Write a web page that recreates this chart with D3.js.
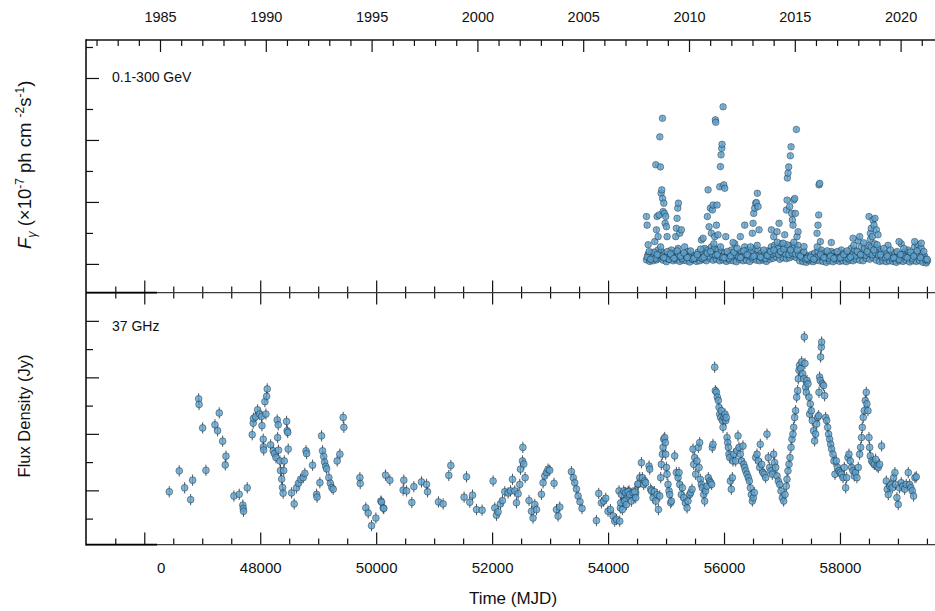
<!DOCTYPE html>
<html><head><meta charset="utf-8">
<script src="https://cdn.jsdelivr.net/npm/d3@7"></script>
<style>body{margin:0;background:#fff}svg{display:block;font-family:"Liberation Sans",Arial,Helvetica,sans-serif}</style>
</head><body><svg id="c" width="935" height="611"></svg>
<script>
// ---------- DATA ----------
const mjdMajorTicks = [46000,48000,50000,52000,54000,56000,58000];
const mjdTickLabels = ["0","48000","50000","52000","54000","56000","58000"];
const mjdMinorTicks = [45500,46500,47000,47500,48500,49000,49500,50500,51000,51500,52500,53000,53500,54500,55000,55500,56500,57000,57500,58500,59000,59500];
const yearMajorTicks = [1985,1990,1995,2000,2005,2010,2015,2020];
const yearMinorTicks = [1982,1983,1984,1986,1987,1988,1989,1991,1992,1993,1994,1996,1997,1998,1999,2001,2002,2003,2004,2006,2007,2008,2009,2011,2012,2013,2014,2016,2017,2018,2019,2021];
const gammaMajorTicks = [0,2,4,6];
const gammaMinorTicks = [1,3,5,7];
const radioMajorTicks = [2,4,6,8];
const radioMinorTicks = [1,3,5,7];
const gammaTypicalErr = 0.08;
const radioTypicalErr = 0.2;

// Fermi-LAT 0.1-300 GeV flux (x1e-7 ph cm^-2 s^-1): [MJD, flux]
const gammaPoints = [
[54662,0.13],[54719,0.08],[54777,0.10],[54834,0.13],[54892,0.18],[54949,0.12],[55007,0.07],[55064,0.15],[55122,0.10],[55179,0.13],[55236,0.08],[55294,0.12],[55351,0.10],[55409,0.06],[55466,0.13],[55524,0.08],[55581,0.10],[55639,0.14],[55696,0.10],[55754,0.18],[55811,0.12],[55869,0.15],[55926,0.10],[55984,0.13],[56041,0.08],[56099,0.12],[56156,0.10],[56213,0.07],[56271,0.14],[56328,0.10],[56386,0.12],[56443,0.08],[56501,0.15],[56558,0.12],[56616,0.10],[56673,0.13],[56731,0.08],[56788,0.15],[56846,0.18],[56903,0.22],[56961,0.15],[57018,0.20],[57076,0.17],[57133,0.20],[57190,0.25],[57248,0.20],[57305,0.10],[57363,0.07],[57420,0.05],[57478,0.10],[57535,0.07],[57593,0.12],[57650,0.10],[57708,0.08],[57765,0.05],[57823,0.10],[57880,0.07],[57938,0.12],[57995,0.08],[58052,0.10],[58110,0.07],[58167,0.12],[58225,0.10],[58282,0.15],[58340,0.12],[58397,0.10],[58455,0.18],[58512,0.15],[58570,0.20],[58627,0.12],[58685,0.08],[58742,0.10],[58800,0.07],[58857,0.10],[58914,0.08],[58972,0.05],[59029,0.10],[59087,0.08],[59144,0.12],[59202,0.06],[59259,0.10],[59317,0.08],[59375,0.10],[59432,0.05],[59489,0.03],
[54690,0.30],[54747,0.35],[54805,0.25],[54862,0.45],[54920,0.40],[54977,0.33],[55035,0.28],[55092,0.45],[55150,0.35],[55207,0.50],[55264,0.30],[55322,0.55],[55379,0.40],[55437,0.30],[55494,0.25],[55552,0.38],[55609,0.30],[55667,0.50],[55724,0.45],[55782,0.55],[55839,0.50],[55897,0.45],[55954,0.40],[56012,0.35],[56069,0.30],[56127,0.45],[56184,0.65],[56241,0.35],[56299,0.40],[56356,0.55],[56414,0.45],[56471,0.40],[56529,0.50],[56586,0.45],[56644,0.35],[56701,0.30],[56759,0.42],[56816,0.55],[56874,0.60],[56931,0.50],[56989,0.65],[57046,0.55],[57104,0.50],[57161,0.60],[57218,0.55],[57276,0.60],[57333,0.35],[57391,0.30],[57448,0.25],[57506,0.30],[57563,0.35],[57621,0.40],[57678,0.45],[57736,0.35],[57793,0.30],[57851,0.40],[57908,0.35],[57966,0.30],[58023,0.45],[58080,0.35],[58138,0.30],[58195,0.50],[58253,0.45],[58310,0.75],[58368,0.55],[58425,0.50],[58483,0.60],[58540,0.55],[58598,0.65],[58655,0.50],[58713,0.40],[58770,0.35],[58828,0.60],[58885,0.30],[58942,0.35],[59000,0.25],[59057,0.65],[59115,0.40],[59172,0.45],[59230,0.30],[59287,0.55],[59345,0.62],[59403,0.50],[59460,0.25],[59510,0.10],
[54704,0.20],[54761,0.22],[54819,0.18],[54876,0.28],[54934,0.25],[54991,0.20],[55049,0.15],[55106,0.24],[55164,0.20],[55221,0.28],[55278,0.18],[55336,0.26],[55393,0.22],[55451,0.16],[55508,0.20],[55566,0.22],[55623,0.18],[55681,0.30],[55738,0.25],[55796,0.32],[55853,0.28],[55911,0.25],[55968,0.22],[56026,0.20],[56083,0.18],[56141,0.26],[56198,0.30],[56255,0.22],[56313,0.25],[56370,0.30],[56428,0.26],[56485,0.22],[56543,0.28],[56600,0.25],[56658,0.20],[56715,0.18],[56773,0.25],[56830,0.32],[56888,0.35],[56945,0.30],[57003,0.36],[57060,0.32],[57118,0.30],[57175,0.35],[57232,0.32],[57290,0.30],[57347,0.20],[57405,0.16],[57462,0.15],[57520,0.18],[57577,0.20],[57635,0.24],[57692,0.25],[57750,0.20],[57807,0.18],[57865,0.24],[57922,0.20],[57980,0.18],[58037,0.25],[58094,0.20],[58152,0.18],[58209,0.28],[58267,0.26],[58324,0.35],[58382,0.30],[58439,0.28],[58497,0.34],[58554,0.30],[58612,0.36],[58669,0.28],[58727,0.22],[58784,0.20],[58842,0.30],[58899,0.18],[58956,0.20],[59014,0.15],[59071,0.32],[59129,0.24],[59186,0.25],[59244,0.18],[59301,0.30],[59359,0.34],[59417,0.28],[59474,0.15],
[54676,0.22],[54733,0.15],[54791,0.38],[54848,0.30],[54906,0.55],[54963,0.20],[55021,0.40],[55078,0.32],[55136,0.18],[55193,0.42],[55250,0.25],[55308,0.35],[55365,0.20],[55423,0.42],[55480,0.18],[55538,0.30],[55595,0.48],[55653,0.22],[55710,0.35],[55768,0.40],[55825,0.65],[55883,0.30],[55940,0.55],[55998,0.20],[56055,0.40],[56113,0.25],[56170,0.38],[56227,0.50],[56285,0.20],[56342,0.42],[56400,0.30],[56457,0.55],[56515,0.25],[56572,0.60],[56630,0.22],[56687,0.45],[56745,0.28],[56802,0.40],[56860,0.45],[56917,0.70],[56975,0.40],[57032,0.48],[57090,0.62],[57147,0.45],[57204,0.70],[57262,0.45],[57319,0.25],[57377,0.40],[57434,0.18],[57492,0.22],[57549,0.15],[57607,0.55],[57664,0.30],[57722,0.20],[57779,0.42],[57837,0.25],[57894,0.18],[57952,0.40],[58009,0.20],[58066,0.30],[58124,0.42],[58181,0.22],[58239,0.60],[58296,0.40],[58354,0.30],[58411,0.68],[58469,0.40],[58526,0.80],[58584,0.45],[58641,0.62],[58699,0.30],[58756,0.50],[58814,0.25],[58871,0.45],[58928,0.20],[58986,0.40],[59043,0.30],[59101,0.50],[59158,0.20],[59216,0.38],[59273,0.25],[59331,0.42],[59389,0.20],[59446,0.40],[59503,0.15],
[54662,1.53],[54673,1.25],[54691,0.62],[54708,0.40],[54805,0.72],[54823,3.20],[54834,1.10],[54846,1.53],[54863,0.88],[54880,1.58],[54892,4.10],[54903,3.13],[54915,2.28],[54926,2.39],[54938,4.70],[54940,2.11],[54949,1.69],[54961,1.96],[54972,1.63],[54984,1.31],[54995,1.53],[55007,1.20],[55018,0.88],
[55167,0.88],[55179,1.15],[55190,1.47],[55202,1.80],[55213,1.96],[55236,0.99],[55265,1.10],[55610,0.77],[55639,0.83],
[55713,1.53],[55725,2.39],[55742,1.20],[55765,1.80],[55782,0.99],[55800,1.74],[55811,1.90],[55840,0.88],[55851,4.65],[55857,4.57],[55869,1.25],[55880,1.90],[55897,0.94],
[55926,2.49],[55938,3.14],[55949,3.52],[55961,3.73],[55966,3.86],[55984,5.07],[55995,2.55],[56012,2.44],[56030,0.88],[56156,0.69],[56282,0.88],[56357,1.25],
[56489,0.99],[56501,1.31],[56512,1.63],[56530,1.80],[56547,1.96],[56558,1.98],[56575,2.28],[56587,1.85],[56604,1.10],
[56817,1.10],[56857,0.88],[56915,1.04],[56949,1.31],[57018,0.67],[57047,0.94],
[57076,1.74],[57087,2.06],[57093,2.77],[57104,2.93],[57116,3.13],[57133,1.85],[57144,3.49],[57156,3.78],[57167,1.63],[57179,1.42],[57190,1.25],[57202,2.06],[57219,2.11],[57231,1.63],[57248,4.34],[57259,0.88],[57277,1.04],[57380,0.56],
[57604,0.99],[57621,1.25],[57633,1.58],[57639,2.55],[57650,2.60],[57662,0.72],[57851,0.69],[58225,0.83],[58340,0.88],
[58501,1.53],[58524,0.99],[58541,1.15],[58558,0.88],[58570,1.42],[58587,1.25],[58604,1.47],[58627,1.10],[58656,0.94],[59018,0.72],[59288,0.72],[59403,0.67]
];

// 37 GHz flux density (Jy): [MJD, flux]
const radioPoints = [
[46431,1.95],[46603,2.69],[46696,2.09],[46800,1.67],[46834,2.36],[46938,5.24],[46945,5.04],[47007,4.21],[47064,2.71],[47219,4.32],[47265,4.11],[47293,4.74],[47352,3.74],[47397,2.90],[47409,3.21],[47546,1.80],[47638,1.86],[47700,1.48],[47707,1.36],[47712,1.26],[47776,2.09],
[47862,3.97],[47879,4.38],[47885,4.55],[47920,4.60],[47955,4.85],[47990,4.70],[48024,4.62],[48030,4.29],[48052,3.81],[48055,3.54],[48060,3.43],[48081,5.14],[48098,4.70],[48110,5.33],[48121,5.59],[48179,3.61],[48224,3.40],[48245,3.30],[48271,3.16],[48293,4.49],[48310,4.32],[48300,3.87],[48315,3.42],[48340,3.04],[48350,2.70],[48370,2.40],[48385,2.10],[48395,1.90],[48405,2.70],[48415,3.04],[48455,4.44],[48465,4.11],[48475,4.05],[48483,3.46],
[48541,1.91],[48586,1.52],[48627,2.09],[48660,2.25],[48696,2.39],[48741,2.45],[48770,2.60],[48790,3.40],[48800,3.30],[48903,2.89],[48972,1.86],[48980,1.76],[49029,2.27],[49058,3.93],[49075,3.40],[49095,3.20],[49110,3.00],[49130,2.85],[49145,2.76],[49184,2.45],[49210,2.25],[49235,2.10],[49259,2.04],[49327,3.04],[49374,3.28],[49431,4.58],[49443,4.23],
[49719,2.45],[49725,2.24],[49822,1.38],[49862,1.20],[49920,0.75],[49995,1.02],[50081,1.62],[50093,1.58],[50121,1.38],[50132,1.36],[50161,2.54],[50236,2.36],[50477,2.36],[50465,2.01],[50524,1.98],[50615,1.57],[50650,2.13],[50782,2.30],[50869,2.21],[50886,1.95],[51075,1.59],[51155,1.52],[51253,2.53],[51288,2.88],[51517,1.76],[51558,2.48],[51615,1.58],[51662,1.83],[51731,1.32],[51827,1.30],
[52017,2.33],[52046,1.38],[52075,1.12],[52103,1.24],[52144,1.52],[52178,1.64],[52219,1.95],[52276,1.91],[52317,1.98],[52351,2.39],[52391,1.98],[52420,1.56],[52448,1.88],[52477,2.21],[52489,2.75],[52524,3.04],[52530,3.52],[52546,2.93],[52569,2.45],[52637,1.64],[52679,1.26],[52706,1.02],[52736,1.50],[52765,1.32],
[52851,1.86],[52879,2.27],[52908,2.51],[52937,2.63],[52965,2.75],[52994,2.71],[53068,2.25],[53110,1.32],[53138,1.09],[53167,1.41],[53368,2.66],[53400,2.45],[53425,2.27],[53454,2.05],[53483,1.80],[53515,1.60],[53551,1.36],
[53799,0.93],[53839,1.89],[53885,1.56],[53925,1.62],[53960,1.72],[53999,1.26],[54041,1.32],[54086,1.09],[54115,0.91],[54144,0.97],[54189,1.98],[54213,1.38],[54258,1.56],[54287,1.91],[54316,1.74],[54361,1.98],[54402,1.86],[54442,1.74],[54477,1.91],[54517,2.21],
[54201,0.91],[54218,1.56],[54230,1.85],[54247,1.32],[54270,1.98],[54287,1.62],[54304,1.92],[54316,1.50],[54345,1.95],[54373,1.85],[54402,1.62],[54431,1.92],[54460,1.95],[54477,1.74],[54517,2.23],[54546,2.45],[54575,2.98],[54592,2.45],[54615,2.21],[54632,2.33],[54649,2.27],
[54707,2.86],[54718,2.75],[54735,2.04],[54747,1.98],[54776,1.74],[54799,1.95],[54822,1.62],[54845,1.85],[54868,1.32],[54891,1.80],[54908,2.45],[54919,2.92],[54937,3.28],[54948,3.52],[54960,3.81],[54977,3.87],[54988,3.69],[54994,3.28],[55006,2.81],[55017,2.57],[55034,2.21],[55052,1.98],[55063,1.85],[55080,1.56],[55092,1.62],
[55149,3.22],[55178,2.63],[55207,2.45],[55224,2.63],[55236,2.21],[55264,1.85],[55281,2.09],[55304,1.74],[55333,1.56],[55362,1.38],[55379,1.62],[55408,1.85],[55425,1.92],[55448,2.04],[55465,3.46],[55477,2.92],[55494,3.16],[55511,2.57],[55534,3.04],[55557,3.52],[55580,3.69],[55569,2.81],[55592,2.39],[55609,2.21],[55626,2.09],[55649,1.85],[55666,1.62],[55683,1.98],[55706,2.15],[55729,2.45],[55753,2.33],[55770,2.27],[55787,2.21],
[55798,3.52],[55810,3.63],[55839,6.36],[55850,5.53],[55868,5.47],[55885,5.30],[55902,5.18],[55914,4.94],[55925,4.70],[55942,4.58],[55954,4.82],[55971,4.47],[55983,4.23],[56000,4.58],[56017,4.70],[56029,4.47],[56040,4.58],[56052,3.87],[56063,3.69],[56075,3.52],[56086,3.28],[56098,3.16],[56109,2.33],[56126,2.04],[56144,2.45],[56155,3.04],[56167,3.28],
[56201,3.04],[56224,3.40],[56241,3.93],[56258,3.52],[56281,3.28],[56304,3.04],[56327,3.57],[56339,2.92],[56356,2.81],[56373,2.69],[56396,2.57],[56419,2.45],[56437,2.33],[56454,2.09],[56471,1.85],[56488,1.62],[56506,1.74],[56523,1.92],
[56546,3.16],[56569,3.28],[56592,3.04],[56615,2.81],[56626,3.63],[56649,2.92],[56672,2.63],[56695,2.57],[56718,2.45],[56741,3.99],[56764,3.16],[56787,2.81],[56810,2.69],[56833,2.57],[56856,3.28],[56873,2.98],[56891,2.81],[56914,2.51],[56937,2.33],[56960,2.21],[56983,1.98],[57006,1.74],[57029,1.62],[57052,1.85],[57075,2.15],
[57086,2.39],[57103,2.69],[57121,2.92],[57138,3.16],[57155,3.52],[57172,3.81],[57189,3.99],[57201,4.23],[57218,4.58],[57235,4.82],[57253,5.30],[57270,5.53],[57281,5.95],[57293,6.25],[57304,6.43],[57322,6.31],[57339,6.55],[57356,6.13],[57374,5.95],[57385,7.43],[57396,6.49],[57408,5.65],[57419,5.47],[57431,5.89],[57448,5.77],[57465,5.30],[57477,4.70],[57488,5.06],[57506,4.82],[57523,4.47],[57546,4.11],[57563,3.75],[57580,3.99],[57598,4.35],[57615,4.58],[57632,4.64],
[57638,5.47],[57649,6.01],[57661,5.89],[57666,6.72],[57678,7.07],[57684,7.25],[57695,5.77],[57718,5.71],[57735,5.35],[57753,4.58],[57770,4.47],[57787,4.23],[57804,3.99],[57822,3.81],[57839,3.63],[57856,3.46],[57879,3.28],[57896,3.04],[57914,2.57],[57937,3.04],[57960,2.81],[57983,2.69],[58006,2.63],[58029,2.57],[58052,2.45],[58075,2.81],[58098,2.09],[58115,2.45],
[58138,3.16],[58155,3.28],[58178,3.04],[58201,2.81],[58224,2.69],[58247,2.51],[58270,2.63],[58293,2.45],[58316,2.81],[58339,3.28],[58356,3.52],[58373,3.87],[58385,4.23],[58402,4.58],[58419,4.82],[58437,5.18],[58454,5.47],[58465,5.06],[58483,4.82],[58500,3.87],[58511,3.52],
[58523,3.22],[58546,3.04],[58569,2.98],[58592,2.92],[58615,3.10],[58638,2.86],[58661,2.81],[58684,2.92],[58718,3.57],
[58799,2.33],[58816,2.04],[58833,1.85],[58856,2.15],[58879,2.21],[58902,2.09],[58925,2.45],[58948,2.63],[58959,2.21],[58982,1.74],[59005,1.50],[59028,2.09],[59057,2.27],[59086,2.15],[59115,2.04],[59143,2.21],[59178,2.63],[59201,2.21],[59224,2.09],[59247,1.98],[59270,1.80],[59293,2.45],[59316,2.48]
];

// ---------- CHART ----------
const svg = d3.select("#c");
const W = 935;
const left = 86, topY = 40, midY = 292.6, botY = 544.6;

const x = d3.scaleLinear().domain([45000, 59700]).range([86.3, 86.3 + 14700 * 0.057975]);
const xYear = d3.scaleLinear().domain([1985, 2020]).range([160, 900.6]);
const yG = d3.scaleLinear().domain([-0.926, 7.226]).range([midY, topY]);
const yR = d3.scaleLinear().domain([0.08, 9.0]).range([botY, midY]);

const markColor = "#5ea3d0";

function drawSeries(data, ys, err, r, clipId, y0, y1) {
  svg.append("clipPath").attr("id", clipId).append("rect")
    .attr("x", left).attr("y", y0).attr("width", W - left).attr("height", y1 - y0);
  const g = svg.append("g").attr("clip-path", `url(#${clipId})`);
  g.selectAll("line.err").data(data).join("line").attr("class", "err")
    .attr("x1", d => x(d[0])).attr("x2", d => x(d[0]))
    .attr("y1", d => ys(d[1] - err)).attr("y2", d => ys(d[1] + err))
    .attr("stroke", "#111").attr("stroke-opacity", 0.7).attr("stroke-width", 1);
  g.selectAll("circle").data(data).join("circle")
    .attr("cx", d => x(d[0])).attr("cy", d => ys(d[1])).attr("r", r)
    .attr("fill", markColor).attr("fill-opacity", 0.8)
    .attr("stroke", "#0d1820").attr("stroke-opacity", 0.6).attr("stroke-width", 0.7);
}
drawSeries(gammaPoints, yG, gammaTypicalErr, 3.3, "clipG", topY, midY);
drawSeries(radioPoints, yR, radioTypicalErr, 3.4, "clipR", midY, botY);

// ---- axes ----
function noDomain(g) { g.select(".domain").remove(); g.selectAll(".tick line").attr("stroke", "#111").attr("stroke-width", 1.2); }

// top year axis (ticks inward/down)
svg.append("g").attr("transform", `translate(0,${topY})`)
  .call(d3.axisTop(xYear).tickValues(yearMinorTicks).tickSize(-6).tickFormat(""))
  .call(noDomain);
const topMaj = svg.append("g").attr("transform", `translate(0,${topY})`)
  .call(d3.axisTop(xYear).tickValues(yearMajorTicks).tickSizeInner(-12).tickSizeOuter(0).tickPadding(18.5).tickFormat(d3.format("d")))
  .call(noDomain);
topMaj.selectAll("text").attr("font-size", 14.5).attr("fill", "#111").attr("font-family", '"Liberation Sans",Arial,sans-serif');

// middle axis: ticks crossing both sides
[d3.axisTop, d3.axisBottom].forEach(ax => {
  svg.append("g").attr("transform", `translate(0,${midY})`)
    .call(ax(x).tickValues(mjdMinorTicks).tickSize(6).tickFormat("")).call(noDomain);
  svg.append("g").attr("transform", `translate(0,${midY})`)
    .call(ax(x).tickValues(mjdMajorTicks).tickSize(12).tickFormat("")).call(noDomain);
});

// bottom axis (ticks inward/up)
svg.append("g").attr("transform", `translate(0,${botY})`)
  .call(d3.axisTop(x).tickValues(mjdMinorTicks).tickSize(6).tickFormat("")).call(noDomain);
const botMaj = svg.append("g").attr("transform", `translate(0,${botY})`)
  .call(d3.axisBottom(x).tickValues(mjdMajorTicks).tickSizeInner(-12).tickSizeOuter(0).tickPadding(17.5)
    .tickFormat((d, i) => mjdTickLabels[i]))
  .call(noDomain);
botMaj.selectAll("text").attr("font-size", 15).attr("fill", "#111").attr("font-family", '"Liberation Sans",Arial,sans-serif')
  .filter(d => d === 46000).attr("x", 16.3);

// left y axes (ticks inward/right)
svg.append("g").attr("transform", `translate(${left},0)`)
  .call(d3.axisRight(yG).tickValues(gammaMinorTicks).tickSize(7).tickFormat("")).call(noDomain);
svg.append("g").attr("transform", `translate(${left},0)`)
  .call(d3.axisRight(yG).tickValues(gammaMajorTicks).tickSize(13).tickFormat("")).call(noDomain);
svg.append("g").attr("transform", `translate(${left},0)`)
  .call(d3.axisRight(yR).tickValues(radioMinorTicks).tickSize(7).tickFormat("")).call(noDomain);
svg.append("g").attr("transform", `translate(${left},0)`)
  .call(d3.axisRight(yR).tickValues(radioMajorTicks).tickSize(13).tickFormat("")).call(noDomain);

// frame lines
const lines = svg.append("g").attr("fill", "none");
lines.append("line").attr("x1", left).attr("x2", W).attr("y1", topY).attr("y2", topY).attr("stroke", "#111").attr("stroke-width", 1.4);
[midY, botY].forEach(yy => {
  lines.append("line").attr("x1", left).attr("x2", W).attr("y1", yy).attr("y2", yy).attr("stroke", "#3a3a3a").attr("stroke-width", 1.2);
  lines.append("line").attr("x1", left).attr("x2", 157).attr("y1", yy).attr("y2", yy).attr("stroke", "#000").attr("stroke-width", 1.6);
});
lines.append("line").attr("x1", left).attr("x2", left).attr("y1", topY - 0.7).attr("y2", botY + 0.8).attr("stroke", "#000").attr("stroke-width", 1.5);

// panel labels
svg.append("text").attr("x", 112).attr("y", 81.5).attr("font-size", 14).attr("fill", "#111").text("0.1-300 GeV");
svg.append("text").attr("x", 112).attr("y", 331).attr("font-size", 14).attr("fill", "#111").text("37 GHz");

// axis titles
const tg = svg.append("text").attr("transform", "translate(31,249) rotate(-90)").attr("text-anchor", "start")
  .attr("font-size", 18.5).attr("fill", "#111");
tg.append("tspan").attr("font-style", "italic").text("F");
tg.append("tspan").attr("font-style", "italic").attr("font-size", 12.5).attr("dy", 4.5).text("γ");
tg.append("tspan").attr("dy", -4.5).text(" (×10");
tg.append("tspan").attr("font-size", 12).attr("dy", -7.5).text("-7");
tg.append("tspan").attr("dy", 7.5).text(" ph cm ");
tg.append("tspan").attr("font-size", 12).attr("dy", -7.5).text("-2");
tg.append("tspan").attr("dy", 7.5).text("s");
tg.append("tspan").attr("font-size", 12).attr("dy", -7.5).text("-1");
tg.append("tspan").attr("dy", 7.5).text(")");

svg.append("text").attr("transform", "translate(30,416) rotate(-90)").attr("text-anchor", "middle")
  .attr("font-size", 16.5).attr("fill", "#111").text("Flux Density (Jy)");
svg.append("text").attr("x", 513).attr("y", 604).attr("text-anchor", "middle")
  .attr("font-size", 17).attr("fill", "#111").text("Time (MJD)");
</script></body></html>
